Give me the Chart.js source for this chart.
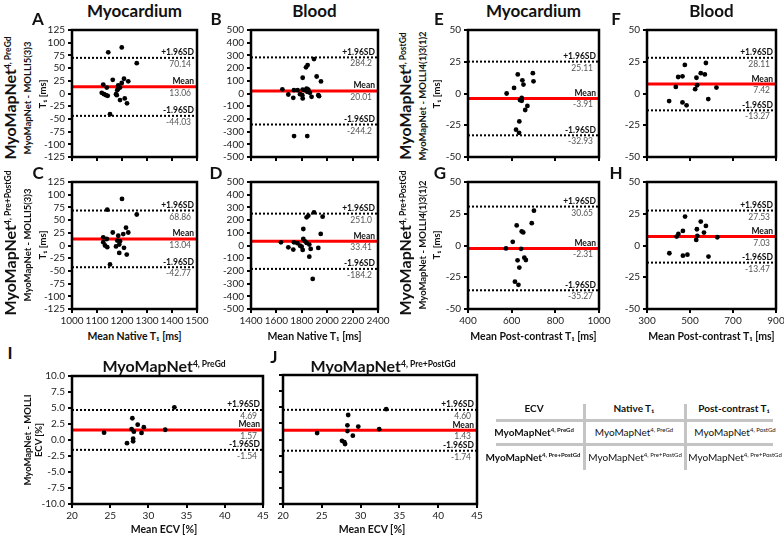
<!DOCTYPE html>
<html>
<head>
<meta charset="utf-8">
<script src="https://cdn.jsdelivr.net/npm/chart.js@4.4.1/dist/chart.umd.min.js"></script>
<style>
  body { margin: 0; width: 784px; height: 536px; position: relative; background: #fff; font-family: Lato, sans-serif; overflow: hidden; color: #111; }
  canvas { position: absolute; }
  .t { position: absolute; white-space: nowrap; line-height: 1; }
  .h1 { font-weight: bold; font-size: 17px; }
  .let { font-weight: bold; font-size: 17px; }
  .big { font-weight: bold; font-size: 16px; }
  .mid { font-weight: bold; font-size: 9.5px; }
  .xt { font-weight: bold; font-size: 10.5px; }
  .s { font-size: 8.5px; vertical-align: 0.6em; }
  .cell { font-size: 10px; }
  .cell b { font-weight: bold; }
  .cs { font-size: 6px; vertical-align: 0.7em; }
  .ln { position: absolute; background: #c4c4c4; }
</style>
</head>
<body>
<script>
// axis ranges [min, max, step]
const nativeMyoX = [1000, 1500, 100];
const nativeMyoY = [-125, 125, 25];
const nativeBloodX = [1400, 2400, 200];
const nativeBloodY = [-500, 500, 100];
const postMyoX = [400, 1000, 200];
const postBloodX = [300, 900, 200];
const postY = [-50, 50, 25];
const ecvX = [20, 45, 5];
const ecvY = [-10, 10, 2.5];

// A: native myocardium, PreGd
const aMean = [1145, 1199, 1259, 1125, 1139, 1163, 1119, 1128, 1136, 1143, 1185, 1185, 1181, 1192, 1199, 1208, 1225, 1179, 1192, 1211, 1220, 1152, 1176];
const aDiff = [81, 90.7, 59.6, 17.5, 11.7, 27, 1.3, -1.3, -3.2, -4.5, 16, 9.7, 6.5, 11.7, 20.7, 29, 24, -3.2, -13, -9.7, -19.4, -40.8, -1.3];
const aLimits = [70.14, 13.06, -44.03];

// B: native blood, PreGd
const bMean = [1647, 1694, 1733, 1738, 1767, 1807, 1807, 1804, 1807, 1825, 1838, 1843, 1851, 1864, 1877, 1833, 1846, 1896, 1917, 1951, 1930, 1936, 1739, 1843, 1786];
const bDiff = [33, -8, -34, 26, 26, 124, 31, -13, -39, 26, 39, 13, 31, 5, -26, 206, 224, 271, 134, 95, -13, -21, -335, -335, -5];
const bLimits = [284.2, 20.01, -244.2];

// C: native myocardium, Pre+PostGd
const cMean = [1141, 1200, 1259, 1216, 1163, 1225, 1205, 1125, 1139, 1125, 1132, 1141, 1185, 1181, 1192, 1176, 1189, 1208, 1189, 1219, 1152];
const cDiff = [70.6, 91.7, 61, 35, 25.6, 25.6, 22.4, 16, 12.8, 6.4, 0, -3.2, 19.2, 9.6, 8.3, -1.9, 1.9, -4.5, -14.7, -17.9, -37.2];
const cLimits = [68.86, 13.04, -42.77];

// D: native blood, Pre+PostGd
const dMean = [1838, 1851, 1896, 1964, 1812, 1636, 1694, 1733, 1738, 1765, 1812, 1799, 1807, 1825, 1838, 1859, 1870, 1859, 1930, 1949, 1886, 1786];
const dDiff = [222, 235, 261, 227, 130, 25, -14, -32, 25, 18, 52, -9, -35, 33, 20, 7, -27, -88, -19, 91, -263, -1];
const dLimits = [251.0, 33.41, -184.2];

// E: post-contrast myocardium, PostGd
const eMean = [577, 611, 628, 649, 654, 697, 700, 646, 638, 646, 672, 662, 635, 620, 634];
const eDiff = [0, 4.4, 15, 10.4, 7, 16, 9.6, -3.4, -5.2, -5.7, -9.8, -13, -22, -28.5, -31];
const eLimits = [25.11, -3.91, -32.93];

// F: post-contrast blood, PostGd
const fMean = [403, 434, 445, 465, 476, 465, 484, 524, 530, 533, 550, 569, 574, 585, 623];
const fDiff = [-6, 5.2, 13, 13.5, 22.5, -7, -9.3, 3.4, 12.4, 6.5, 16, 15, 24, -4.4, 4.7];
const fLimits = [28.11, 7.42, -13.27];

// G: post-contrast myocardium, Pre+PostGd
const gMean = [702, 623, 692, 646, 653, 574, 605, 643, 627, 635, 658, 665, 615, 631];
const gDiff = [27.4, 15.8, 17.6, 11.1, 10.3, -2.3, 2.9, -2.6, -11.7, -17.4, -9.6, -11.4, -28.5, -31];
const gLimits = [30.65, -2.31, -35.27];

// H: post-contrast blood, Pre+PostGd
const hMean = [477, 574, 550, 532, 467, 446, 438, 529, 534, 565, 627, 404, 467, 488, 586];
const hDiff = [22.8, 15.4, 18.8, 12.8, 11.5, 9.1, 7, 4.4, 7.6, 10.2, 6.5, -6.1, -8, -7.2, -8.7];
const hLimits = [27.53, 7.03, -13.47];

// I: ECV, PreGd
const iMean = [24.2, 27.9, 27.8, 28.1, 28.6, 29.4, 29.1, 27.2, 28.0, 28.0, 32.2, 33.4];
const iDiff = [1.15, 3.4, 1.7, 1.3, 2.4, 2.0, 1.1, -0.5, -0.2, 0.2, 1.6, 5.1];
const iLimits = [4.69, 1.57, -1.54];

// J: ECV, Pre+PostGd
const jMean = [24.4, 28.4, 28.3, 28.3, 29.7, 29.0, 27.6, 27.9, 28.0, 32.4, 33.3];
const jDiff = [1.0, 3.8, 2.2, 1.3, 2.0, 0.6, -0.2, -0.4, -0.7, 1.6, 4.7];
const jLimits = [4.60, 1.43, -1.74];

const limitNames = ['+1.96SD', 'Mean', '-1.96SD'];

function fmtLimit(v) {
  return Math.abs(v) >= 100 ? v.toFixed(1) : v.toFixed(2);
}

// frame + "+1.96SD / Mean / -1.96SD" captions
const limitLabels = {
  id: 'limitLabels',
  afterDatasetsDraw(chart, args, opts) {
    const {ctx, chartArea: {left, top, right, bottom}, scales: {y}} = chart;
    ctx.save();
    ctx.lineWidth = 2.5;
    ctx.strokeStyle = '#000';
    ctx.strokeRect(left, top, right - left, bottom - top);
    ctx.textAlign = 'right';
    opts.limits.forEach((v, i) => {
      const py = y.getPixelForValue(v);
      ctx.font = 'bold 8.5px Lato';
      ctx.fillStyle = '#111';
      ctx.fillText(limitNames[i], right - 3, py - 2.5);
      ctx.font = '8.5px Lato';
      ctx.fillStyle = '#555';
      ctx.fillText(fmtLimit(v), right - 6, py + 9);
    });
    ctx.restore();
  }
};

function panel(box, xr, yr, xs, ys, limits, showX, showY) {
  const [l, t, r, b] = box;
  const YW = 34, PT = 8, PR = 16;
  const XH = showX ? 20 : 8;
  const w = r - l + YW + PR, h = b - t + PT + XH;
  const cv = document.createElement('canvas');
  cv.width = w; cv.height = h;
  cv.style.left = (l - YW) + 'px';
  cv.style.top = (t - PT) + 'px';
  cv.style.width = w + 'px';
  cv.style.height = h + 'px';
  document.body.appendChild(cv);

  const refLine = (v, i) => ({
    data: [{x: xr[0], y: v}, {x: xr[1], y: v}],
    showLine: true,
    pointRadius: 0,
    borderColor: i == 1 ? '#ff0000' : '#000',
    borderWidth: i == 1 ? 3 : 2,
    borderDash: i == 1 ? [] : [2, 2],
  });

  new Chart(cv, {
    type: 'scatter',
    data: {
      datasets: [{
        data: xs.map((x, k) => ({x: x, y: ys[k]})),
        backgroundColor: '#000',
        borderColor: '#000',
        pointRadius: 2.4,
        borderWidth: 0,
      }].concat(limits.map(refLine))
    },
    options: {
      responsive: false,
      animation: false,
      events: [],
      layout: {padding: {left: 0, top: PT, right: PR, bottom: 0}, autoPadding: false},
      scales: {
        x: {
          type: 'linear', min: xr[0], max: xr[1],
          ticks: {stepSize: xr[2], display: showX, font: {family: 'Lato', size: 10}, color: '#222', padding: 2,
            maxRotation: 0, autoSkip: false, callback: v => String(v)},
          grid: {drawOnChartArea: false, color: '#000', tickLength: 4, lineWidth: 2, tickWidth: 2},
          border: {display: false},
          afterFit: s => { s.height = XH; }
        },
        y: {
          type: 'linear', min: yr[0], max: yr[1],
          ticks: {stepSize: yr[2], display: showY, font: {family: 'Lato', size: 10}, color: '#222', padding: 3,
            autoSkip: false, callback: v => yr[2] % 1 ? v.toFixed(1) : String(v)},
          grid: {drawOnChartArea: false, color: '#000', tickLength: 4, lineWidth: 2, tickWidth: 2},
          border: {display: false},
          afterFit: s => { s.width = YW; }
        }
      },
      plugins: {legend: {display: false}, tooltip: {enabled: false}, limitLabels: {limits: limits}}
    },
    plugins: [limitLabels]
  });
}

panel([72, 29, 197, 158], nativeMyoX, nativeMyoY, aMean, aDiff, aLimits, false, true);
panel([251, 29, 378, 158], nativeBloodX, nativeBloodY, bMean, bDiff, bLimits, false, true);
panel([72, 181, 197, 309], nativeMyoX, nativeMyoY, cMean, cDiff, cLimits, true, true);
panel([251, 181, 378, 309], nativeBloodX, nativeBloodY, dMean, dDiff, dLimits, true, true);
panel([468, 29, 599, 158], postMyoX, postY, eMean, eDiff, eLimits, false, true);
panel([647, 29, 776, 158], postBloodX, postY, fMean, fDiff, fLimits, false, true);
panel([468, 181, 599, 309], postMyoX, postY, gMean, gDiff, gLimits, true, true);
panel([647, 181, 776, 309], postBloodX, postY, hMean, hDiff, hLimits, true, true);
panel([72, 375, 263, 504], ecvX, ecvY, iMean, iDiff, iLimits, true, true);
panel([283, 375, 477, 504], ecvX, ecvY, jMean, jDiff, jLimits, true, false);

// text outside the plots
function txt(html, x, y, cls, rot) {
  const d = document.createElement('div');
  d.className = 't ' + cls;
  d.innerHTML = html;
  d.style.left = x + 'px';
  d.style.top = y + 'px';
  d.style.transform = 'translate(-50%,-50%)' + (rot ? ' rotate(-90deg)' : '');
  document.body.appendChild(d);
}

txt('Myocardium', 134.5, 10, 'h1');
txt('Blood', 314.5, 10, 'h1');
txt('Myocardium', 533.5, 10, 'h1');
txt('Blood', 711.5, 10, 'h1');

[['A', 38, 18], ['B', 216, 18], ['C', 38, 172], ['D', 216, 172], ['E', 439, 18], ['F', 616, 18],
 ['G', 440, 172], ['H', 616, 172], ['I', 10, 352], ['J', 274, 356]].forEach(p => txt(p[0], p[1], p[2], 'let'));

txt('MyoMapNet<span class="s">4, PreGd</span>', 10, 98, 'big', true);
txt('MyoMapNet - MOLLI5(3)3', 28, 98, 'mid', true);
txt('T₁ [ms]', 43, 94, 'mid', true);
txt('MyoMapNet<span class="s">4, Pre+PostGd</span>', 10, 243, 'big', true);
txt('MyoMapNet - MOLLI5(3)3', 28, 245, 'mid', true);
txt('T₁ [ms]', 43, 245, 'mid', true);
txt('MyoMapNet<span class="s">4, PostGd</span>', 405, 96, 'big', true);
txt('MyoMapNet - MOLLI4(1)3(1)2', 423, 96, 'mid', true);
txt('T₁ [ms]', 437, 94, 'mid', true);
txt('MyoMapNet<span class="s">4, Pre+PostGd</span>', 405, 243, 'big', true);
txt('MyoMapNet - MOLLI4(1)3(1)2', 423, 245, 'mid', true);
txt('T₁ [ms]', 437, 245, 'mid', true);
txt('MyoMapNet - MOLLI', 28, 440, 'mid', true);
txt('ECV [%]', 39, 440, 'mid', true);

txt('Mean Native T₁ [ms]', 134.5, 336, 'xt');
txt('Mean Native T₁ [ms]', 314.5, 336, 'xt');
txt('Mean Post-contrast T₁ [ms]', 533.5, 336, 'xt');
txt('Mean Post-contrast T₁ [ms]', 711.5, 336, 'xt');
txt('Mean ECV [%]', 164, 529, 'xt');
txt('Mean ECV [%]', 372, 529, 'xt');

txt('MyoMapNet<span class="s">4, PreGd</span>', 164, 366, 'big');
txt('MyoMapNet<span class="s">4, Pre+PostGd</span>', 383, 366, 'big');

// legend table
function ln(x, y, w, h) {
  const d = document.createElement('div');
  d.className = 'ln';
  d.style.left = x + 'px'; d.style.top = y + 'px';
  d.style.width = w + 'px'; d.style.height = h + 'px';
  document.body.appendChild(d);
}
ln(496, 419, 277, 3);
ln(496, 443, 277, 3);
ln(583, 404, 3, 66);
ln(684, 404, 3, 66);

txt('<b>ECV</b>', 534, 408, 'cell');
txt('<b>Native T₁</b>', 634, 408, 'cell');
txt('<b>Post-contrast T₁</b>', 734, 408, 'cell');
txt('<b>MyoMapNet<span class="cs">4, PreGd</span></b>', 534, 432, 'cell');
txt('MyoMapNet<span class="cs">4, PreGd</span>', 634, 432, 'cell');
txt('MyoMapNet<span class="cs">4, PostGd</span>', 735, 432, 'cell');
txt('<b>MyoMapNet<span class="cs">4, Pre+PostGd</span></b>', 533, 457, 'cell');
txt('MyoMapNet<span class="cs">4, Pre+PostGd</span>', 635, 457, 'cell');
txt('MyoMapNet<span class="cs">4, Pre+PostGd</span>', 735, 457, 'cell');
</script>
</body>
</html>
